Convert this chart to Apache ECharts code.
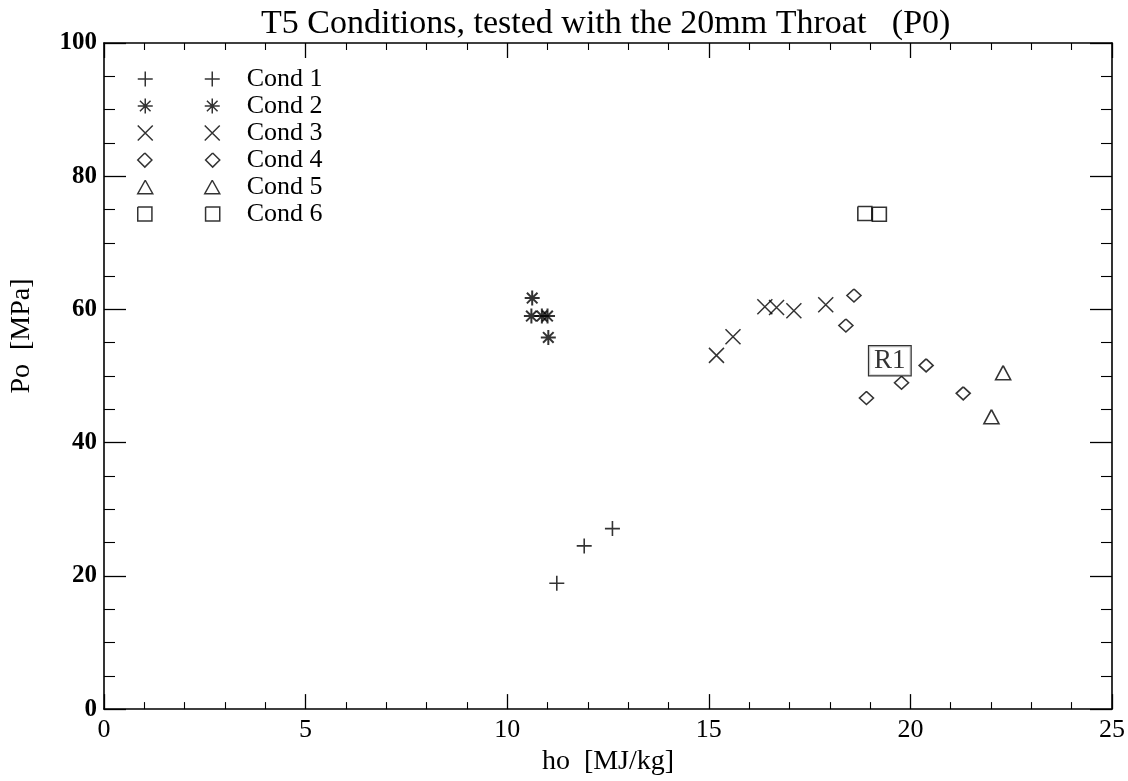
<!DOCTYPE html>
<html>
<head>
<meta charset="utf-8">
<script src="https://cdn.jsdelivr.net/npm/echarts@6/dist/echarts.min.js"></script>
<style>html,body{margin:0;padding:0;background:#fff}#c{width:1128px;height:781px}</style>
</head>
<body>
<div id="c"></div>
<script>
// ---- data ----
const titleText = 'T5 Conditions, tested with the 20mm Throat   (P0)';
const xName = 'ho  [MJ/kg]';
const yName = 'Po  [MPa]';
const seriesNames = ['Cond 1', 'Cond 2', 'Cond 3', 'Cond 4', 'Cond 5', 'Cond 6'];
const cond1 = [[11.23, 18.9], [11.91, 24.5], [12.61, 27.1]];
const cond2 = [[10.62, 61.7], [10.60, 59.0], [10.86, 59.0], [11.00, 59.0], [11.02, 55.8]];
const cond3 = [[15.19, 53.1], [15.60, 55.9], [16.39, 60.4], [16.68, 60.3], [17.11, 59.8], [17.90, 60.7]];
const cond4 = [[18.60, 62.1], [18.40, 57.6], [20.39, 51.6], [19.78, 49.0], [18.91, 46.7], [21.31, 47.4]];
const cond5 = [[22.30, 50.5], [22.01, 43.9]];
const cond6 = [[18.87, 74.4], [19.23, 74.3]];
const annotation = {text: 'R1', at: [19.49, 52.3]};
const xMin = 0, xMax = 25, xStep = 5;
const yMin = 0, yMax = 100, yStep = 20;

// ---- symbol shapes (polylines in a 15x15 box) ----
const shapes = {
  plus: [[[0,7.5],[15,7.5]], [[7.5,0],[7.5,15]]],
  star: [[[0,7.5],[15,7.5]], [[7.5,0],[7.5,15]], [[2.2,2.2],[12.8,12.8]], [[2.2,12.8],[12.8,2.2]]],
  cross: [[[0,0],[15,15]], [[0,15],[15,0]]],
  diamond: [[[7.5,0.5],[14.5,7.5],[7.5,14.5],[0.5,7.5],[7.5,0.5]]],
  triangle: [[[7.5,0.5],[15,14],[0,14],[7.5,0.5]]],
  square: [[[0.5,0.5],[14.5,0.5],[14.5,14.5],[0.5,14.5],[0.5,0.5]]]
};
function toPath(lines, dx) {
  return lines.map(l => l.map((p, i) => (i ? 'L' : 'M') + (p[0] + dx) + ',' + p[1]).join('')).join('');
}
function single(name) { return 'path://' + toPath(shapes[name], 0); }
function double(name) { return 'path://' + toPath(shapes[name], 0) + toPath(shapes[name], 67); }
const shapeOrder = ['plus', 'star', 'cross', 'diamond', 'triangle', 'square'];
const datasets = [cond1, cond2, cond3, cond4, cond5, cond6];
const sizes = [[15,15], [15,15], [15,15], [14,13], [15,14], [14,14]];
const strokes = [1.6, 2.0, 1.5, 1.6, 1.6, 1.6];

const serif = 'Liberation Serif';

const series = datasets.map((d, i) => ({
  name: seriesNames[i],
  type: 'scatter',
  data: d,
  symbol: single(shapeOrder[i]),
  symbolSize: sizes[i],
  itemStyle: {color: 'rgba(0,0,0,0)', borderColor: '#000', borderWidth: strokes[i]},
  emphasis: {disabled: true}
}));
series.push({
  name: 'annot',
  type: 'scatter',
  data: [annotation.at],
  symbolSize: 1,
  itemStyle: {color: 'rgba(0,0,0,0)'},
  label: {
    show: true, position: 'inside', formatter: annotation.text,
    fontFamily: serif, fontSize: 27, color: '#000',
    backgroundColor: '#fff', borderColor: '#000', borderWidth: 1.2,
    padding: [2, 5, 0, 5]
  },
  z: 5
});

const axisCommon = {
  axisLine: {show: true, onZero: false, lineStyle: {color: '#000', width: 1.6}},
  splitLine: {show: false}
};

const option = {
  backgroundColor: '#fff',
  animation: false,
  title: {
    text: titleText, left: 256, top: 2,
    textStyle: {fontFamily: serif, fontSize: 34, fontWeight: 'normal', color: '#000'}
  },
  legend: {
    data: seriesNames.map((n, i) => ({name: n, icon: double(shapeOrder[i])})),
    orient: 'vertical', left: 132, top: 61,
    itemWidth: 82, itemHeight: 15, itemGap: 1,
    itemStyle: {color: 'rgba(0,0,0,0)', borderColor: '#000', borderWidth: 1.5},
    textStyle: {fontFamily: serif, fontSize: 26, color: '#000', lineHeight: 22, padding: [0, 0, 0, 22]},
    selectedMode: false
  },
  grid: {left: 104, right: 16, top: 43, bottom: 59, containLabel: false},
  xAxis: [
    Object.assign({}, axisCommon, {
      type: 'value', min: xMin, max: xMax, interval: xStep, position: 'bottom',
      name: xName, nameLocation: 'middle', nameGap: 34,
      nameTextStyle: {fontFamily: serif, fontSize: 28, color: '#000'},
      axisTick: {show: true, inside: true, length: 15, lineStyle: {color: '#000', width: 1.3}},
      minorTick: {show: true, splitNumber: 5, length: 7, lineStyle: {color: '#000', width: 1.1}},
      axisLabel: {fontFamily: serif, fontSize: 26, color: '#000', margin: 8}
    }),
    Object.assign({}, axisCommon, {
      type: 'value', min: xMin, max: xMax, interval: xStep, position: 'top',
      axisTick: {show: true, inside: true, length: 15, lineStyle: {color: '#000', width: 1.3}},
      minorTick: {show: true, splitNumber: 5, length: 7, lineStyle: {color: '#000', width: 1.1}},
      axisLabel: {show: false}
    })
  ],
  yAxis: [
    Object.assign({}, axisCommon, {
      type: 'value', min: yMin, max: yMax, interval: yStep, position: 'left',
      name: yName, nameLocation: 'middle', nameGap: 68, nameRotate: 90,
      nameTextStyle: {fontFamily: serif, fontSize: 28, color: '#000', padding: [0, 0, 0, 80]},
      axisTick: {show: true, inside: true, length: 22, lineStyle: {color: '#000', width: 1.3}},
      minorTick: {show: true, splitNumber: 4, length: 11, lineStyle: {color: '#000', width: 1.1}},
      axisLabel: {fontFamily: serif, fontSize: 25, fontWeight: 'bold', color: '#000', margin: 7}
    }),
    Object.assign({}, axisCommon, {
      type: 'value', min: yMin, max: yMax, interval: yStep, position: 'right',
      axisTick: {show: true, inside: true, length: 22, lineStyle: {color: '#000', width: 1.3}},
      minorTick: {show: true, splitNumber: 4, length: 11, lineStyle: {color: '#000', width: 1.1}},
      axisLabel: {show: false}
    })
  ],
  series: series
};

const chart = echarts.init(document.getElementById('c'), null, {renderer: 'canvas'});
chart.setOption(option);
</script>
</body>
</html>
